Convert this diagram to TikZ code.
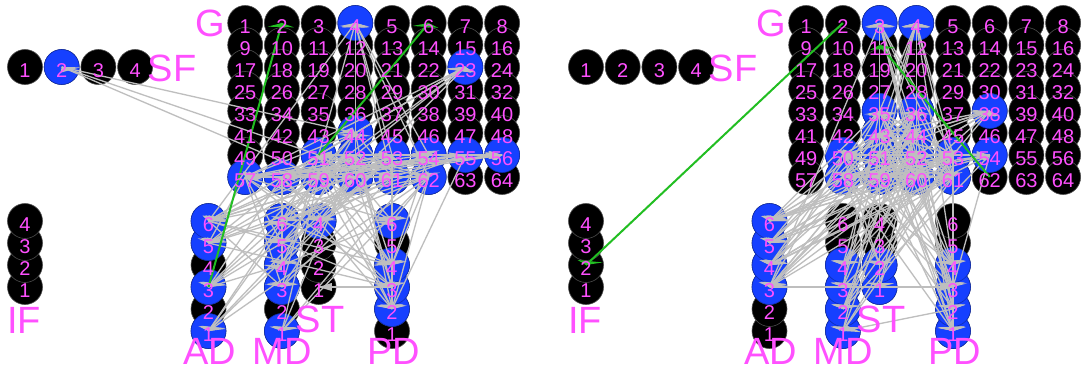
\documentclass[tikz,border=0pt]{standalone}
\usepackage{fontspec}
\setmainfont{Liberation Sans}
\usetikzlibrary{calc}
\definecolor{actblue}{RGB}{22,64,255}
\definecolor{lblpink}{RGB}{255,80,255}
\definecolor{edgegray}{RGB}{190,190,190}
\definecolor{edgegreen}{RGB}{34,190,34}

\tikzset{
  vtx/.style={circle, draw=black!70, line width=0.6pt, fill=black,
              minimum size=35pt, inner sep=0pt},
  act/.style={fill=actblue, draw=actblue!70!black},
  lbl/.style={text=lblpink, font=\fontsize{20}{20}\selectfont, inner sep=0pt},
  grp/.style={text=lblpink, font=\fontsize{38}{38}\selectfont, inner sep=0pt},
  eg/.style={color=edgegray, line width=1.3pt},
  gr/.style={color=edgegreen, line width=2pt},
}

% directed edge with a flat, wide arrowhead at the target centre
\newcommand\edg[3][eg]{%
  \draw[#1] (#2.center) -- (#3.center);
  \fill[#1] let \p1=(#2.center), \p2=(#3.center),
     \n1={(\x2-\x1)/3.3}, \n2={\y2-\y1}, \n3={veclen(\n1,\n2)+0.001},
     \n4={\n1/\n3}, \n5={\n2/\n3} in
     (\p2) -- ++({-13.2*\n4+13.2*\n5},{-4*\n5-4*\n4})
           -- ++({-26.4*\n5},{8*\n4}) -- cycle;
}
\newcommand\edges[2]{\foreach \a/\b in {#2} {\edg{#1-\a}{#1-\b}}}

% vertices of one panel: prefix, x offset, active vertices
\newcommand\mkpanel[3]{%
  \foreach \n in {1,...,4}
    \node[vtx] (#1-SF-\n) at ({#2+25+36.7*(\n-1)}, -67) {};
  \foreach \n in {1,...,64} {
    \pgfmathtruncatemacro\rr{(\n-1)/8}
    \pgfmathtruncatemacro\cc{\n-1-8*\rr}
    \node[vtx] (#1-G-\n) at ({#2+25+36.7*(6+\cc)}, {-(23+22*\rr)}) {};
  }
  \foreach \n in {1,...,4}
    \node[vtx] (#1-IF-\n) at ({#2+25}, {-(23+22*(13-\n))}) {};
  \foreach \n in {1,...,6}
    \node[vtx] (#1-AD-\n) at ({#2+25+36.7*5}, {-(23+22*(15-\n))}) {};
  \foreach \n in {1,...,6}
    \node[vtx] (#1-MD-\n) at ({#2+25+36.7*7}, {-(23+22*(15-\n))}) {};
  \foreach \n in {1,...,4}
    \node[vtx] (#1-ST-\n) at ({#2+25+36.7*8}, {-(23+22*(13-\n))}) {};
  \foreach \n in {1,...,6}
    \node[vtx] (#1-PD-\n) at ({#2+25+36.7*10}, {-(23+22*(15-\n))}) {};
  \foreach \b in {#3} \node[vtx, act] at (#1-\b) {};
}

% vertex numbers and group names of one panel
\newcommand\mklabels[2]{%
  \foreach \n in {1,...,4} \node[lbl] at ([yshift=-4pt]#1-SF-\n.center) {\n};
  \foreach \n in {1,...,64} \node[lbl] at ([yshift=-4pt]#1-G-\n.center) {\n};
  \foreach \n in {1,...,4} \node[lbl] at ([yshift=-4pt]#1-IF-\n.center) {\n};
  \foreach \n in {1,...,6} \node[lbl] at ([yshift=-4pt]#1-AD-\n.center) {\n};
  \foreach \n in {1,...,6} \node[lbl] at ([yshift=-4pt]#1-MD-\n.center) {\n};
  \foreach \n in {1,...,4} \node[lbl] at ([yshift=-4pt]#1-ST-\n.center) {\n};
  \foreach \n in {1,...,6} \node[lbl] at ([yshift=-4pt]#1-PD-\n.center) {\n};
  \node[grp] (#1-gG)  at (#2+210,-23)  {G};
  \node[grp] (#1-gSF) at (#2+172,-68)  {SF};
  \node[grp] (#1-gIF) at (#2+24,-320)  {IF};
  \node[grp] (#1-gAD) at (#2+210,-351) {AD};
  \node[grp] (#1-gMD) at (#2+282,-351) {MD};
  \node[grp] (#1-gST) at (#2+320,-319) {ST};
  \node[grp] (#1-gPD) at (#2+394,-351) {PD};
}

\begin{document}
\begin{tikzpicture}[x=1pt,y=1pt]
\fill[white] (0,0) rectangle (1082,-370);
\useasboundingbox (0,0) rectangle (1082,-370);

% ---------- left network ----------
\mkpanel{L}{0}{SF-2,G-4,G-23,G-44,G-51,G-52,G-53,G-54,G-55,G-56,G-57,G-58,G-59,G-60,G-61,G-62,AD-1,AD-3,AD-5,AD-6,MD-1,MD-3,MD-4,MD-5,MD-6,ST-4,PD-2,PD-3,PD-4,PD-6}

\edges{L}{G-51/SF-2,SF-2/G-44,SF-2/G-59,
  G-51/G-4,G-52/G-4,G-53/G-4,G-60/G-4,G-44/G-4,AD-6/G-4,G-4/G-54,G-4/G-62,G-4/G-61,
  G-51/G-23,G-52/G-23,G-58/G-23,G-59/G-23,G-60/G-23,G-44/G-23,G-57/G-23,
  G-57/G-56,G-58/G-56,G-59/G-56,G-51/G-56,G-60/G-56,G-53/G-56,G-61/G-55,G-52/G-56,G-57/G-55,
  G-57/G-60,G-58/G-61,G-59/G-62,G-52/G-57,G-53/G-58,G-44/G-59,G-54/G-51,G-62/G-57,G-61/G-51,G-60/G-53,G-58/G-52,G-55/G-59,
  G-57/G-54,G-58/G-55,G-59/G-61,G-60/G-57,G-52/G-62,G-51/G-53,G-61/G-58,G-62/G-58,G-57/G-53,G-55/G-57,
  G-56/G-58,G-52/G-54,G-59/G-52,G-60/G-51,G-53/G-59,G-54/G-60,G-62/G-51,G-44/G-57,G-58/G-44,G-61/G-44,
  G-51/AD-6,G-52/AD-6,G-58/AD-6,G-59/AD-6,G-60/AD-6,G-62/AD-6,G-51/AD-5,G-59/AD-5,G-53/AD-5,G-61/AD-5,
  G-52/AD-3,G-58/AD-3,G-61/AD-3,G-60/AD-3,G-59/AD-1,G-60/AD-1,G-53/AD-1,G-54/AD-6,G-57/AD-5,G-44/AD-3,G-62/AD-1,
  AD-6/PD-4,AD-6/MD-5,AD-5/PD-3,AD-6/MD-3,AD-5/MD-6,AD-3/MD-4,AD-1/MD-6,
  G-51/MD-6,G-59/MD-6,G-61/MD-6,G-62/MD-6,G-52/MD-5,G-60/MD-5,G-57/MD-5,G-53/MD-4,G-58/MD-4,G-59/MD-4,
  G-57/MD-3,G-61/MD-3,G-60/MD-3,G-51/MD-3,G-52/MD-1,G-59/MD-1,G-62/MD-1,G-54/MD-1,G-55/MD-6,G-44/MD-4,
  G-53/ST-4,G-60/ST-4,G-62/ST-4,PD-3/ST-1,G-57/ST-4,
  G-59/PD-6,G-60/PD-6,G-62/PD-6,G-61/PD-6,G-51/PD-4,G-52/PD-4,G-59/PD-4,G-62/PD-4,MD-6/PD-4,
  G-53/PD-3,G-60/PD-3,G-57/PD-3,G-58/PD-3,MD-5/PD-3,G-58/PD-2,G-59/PD-2,G-61/PD-2,G-62/PD-2,G-51/PD-2,G-54/PD-4,G-44/PD-2,
  G-57/PD-6,G-52/PD-3,G-55/PD-2,MD-4/PD-6}
\edg[gr]{L-AD-3}{L-G-2}
\edg[gr]{L-G-51}{L-G-6}
\mklabels{L}{0}

% ---------- right network ----------
\mkpanel{R}{561}{G-3,G-4,G-35,G-36,G-38,G-43,G-44,G-50,G-51,G-52,G-53,G-54,G-58,G-59,G-60,G-61,AD-3,AD-4,AD-5,AD-6,MD-1,MD-2,MD-3,MD-4,ST-1,ST-2,PD-1,PD-2,PD-3,PD-4}

\edges{R}{G-59/G-3,G-51/G-3,G-53/G-3,AD-3/G-3,G-61/G-3,G-60/G-3,G-44/G-3,G-52/G-3,G-35/G-3,
  G-52/G-4,G-60/G-4,G-53/G-4,G-61/G-4,G-51/G-4,G-43/G-4,G-59/G-4,G-35/G-4,G-36/G-4,
  G-51/G-38,G-52/G-38,G-59/G-38,G-60/G-38,G-43/G-38,G-44/G-38,G-53/G-38,G-50/G-38,
  G-50/G-54,G-58/G-54,G-59/G-54,
  G-50/G-53,G-58/G-61,G-35/G-60,G-36/G-59,G-43/G-61,G-44/G-58,G-51/G-60,G-52/G-59,G-53/G-58,G-61/G-50,
  G-59/G-44,G-60/G-43,G-35/G-52,G-36/G-51,G-50/G-60,G-58/G-53,G-43/G-53,G-61/G-35,
  G-35/G-53,G-36/G-58,G-43/G-60,G-44/G-50,G-50/G-36,G-51/G-61,G-52/G-58,G-53/G-35,G-58/G-43,G-59/G-36,
  G-60/G-50,G-61/G-52,G-35/G-44,G-44/G-61,G-50/G-59,G-51/G-35,G-52/G-43,G-53/G-60,G-54/G-59,G-60/G-35,
  G-36/G-50,G-43/G-58,G-44/G-60,G-50/G-61,G-51/G-44,G-53/G-43,G-58/G-35,G-59/G-53,G-61/G-36,G-60/G-58,
  G-61/PD-4,
  G-58/AD-6,G-59/AD-6,G-60/AD-6,G-51/AD-6,G-52/AD-6,G-53/AD-6,G-59/AD-5,G-60/AD-5,G-52/AD-5,G-53/AD-5,G-61/AD-5,
  G-51/AD-4,G-60/AD-4,G-61/AD-4,G-53/AD-4,G-44/AD-4,G-52/AD-3,G-59/AD-3,G-44/AD-3,G-61/AD-3,G-60/AD-3,G-36/AD-5,G-43/AD-6,
  G-35/AD-4,G-50/AD-5,G-54/AD-6,G-58/AD-4,G-36/AD-3,G-43/AD-5,G-35/AD-6,G-51/AD-3,G-50/AD-3,G-54/AD-4,
  AD-3/PD-3,
  G-60/MD-4,G-52/MD-4,G-53/MD-4,G-51/MD-3,G-61/MD-3,G-44/MD-3,G-52/MD-2,G-60/MD-2,G-53/MD-2,G-36/MD-2,
  G-59/MD-1,G-61/MD-1,G-53/MD-1,PD-2/MD-1,G-35/MD-3,G-43/MD-4,G-54/MD-2,G-44/MD-1,G-36/MD-4,
  G-58/ST-2,G-50/ST-2,G-51/ST-1,G-60/ST-1,G-53/ST-2,G-44/ST-1,
  G-50/PD-4,G-58/PD-4,G-51/PD-4,G-52/PD-4,G-59/PD-3,G-60/PD-3,G-58/PD-3,G-43/PD-3,
  G-50/PD-2,G-51/PD-2,G-52/PD-2,G-36/PD-2,G-58/PD-1,G-59/PD-1,G-44/PD-1,G-53/PD-1,G-35/PD-4,G-3/PD-2,
  G-43/PD-1,G-54/PD-3,G-4/PD-4,G-35/PD-1}
\edg[gr]{R-G-2}{R-IF-2}
\edg[gr]{R-G-62}{R-G-11}
\mklabels{R}{561}
\end{tikzpicture}
\end{document}
